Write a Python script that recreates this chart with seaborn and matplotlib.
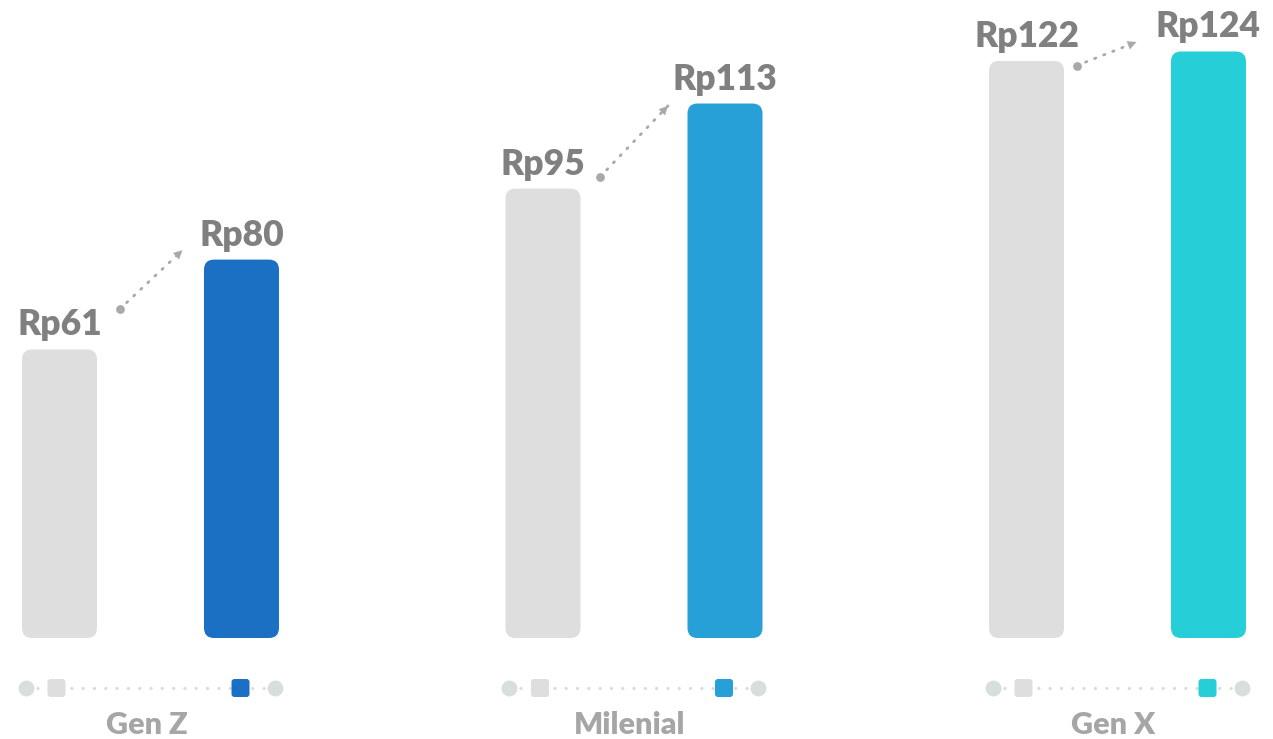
import numpy as np
import pandas as pd
import matplotlib
matplotlib.use("Agg")
import matplotlib.pyplot as plt
import seaborn as sns
from matplotlib.patches import FancyBboxPatch

# data
groups = ["Gen Z", "Milenial", "Gen X"]
periods = ["before", "after"]
before_values = [61, 95, 122]
after_values = [80, 113, 124]
before_labels = ["Rp61", "Rp95", "Rp122"]
after_labels = ["Rp80", "Rp113", "Rp124"]
after_colors = ["#1B70C4", "#26A0D6", "#26CFD8"]
before_color = "#DEDEDE"

# arrow annotation heights (value units)
arrow_from = [69.5, 97.5, 121.0]
arrow_to = [82.0, 112.5, 126.0]

df = pd.DataFrame({
    "group": groups * 2,
    "period": ["before"] * 3 + ["after"] * 3,
    "value": before_values + after_values,
})

sns.set_style("white")
plt.rcParams["font.family"] = ["Lato", "DejaVu Sans"]

# pixel helpers: one category = 483.5 px, one value unit = 4.73 px
PX = 1 / 483.5
PY = 1 / 4.73

fig = plt.figure(figsize=(12.73, 7.39), dpi=100)
ax = fig.add_axes([0, 0, 1, 1])

sns.barplot(data=df, x="group", y="value", hue="period", order=groups,
            hue_order=periods, palette=[before_color, after_colors[0]],
            width=0.7528, gap=0.588, errorbar=None, legend=False, ax=ax)

ax.set_xlim(-150.5 * PX, (1273 - 150.5) * PX)
ax.set_ylim(-101 * PY, 638 * PY)
ax.axis("off")

# swap rectangles for rounded bars
bars = list(ax.patches)
for rect in bars:
    x, y = rect.get_x(), rect.get_y()
    w, h = rect.get_width(), rect.get_height()
    cx = x + w / 2
    gi = int(round(cx))
    is_after = cx > gi
    color = after_colors[gi] if is_after else before_color
    rect.remove()
    box = FancyBboxPatch((x, y), w, h,
                         boxstyle=f"round,pad=0,rounding_size={10 * PX}",
                         mutation_aspect=PY / PX, facecolor=color,
                         edgecolor="none", zorder=2)
    ax.add_patch(box)
    label = (after_labels if is_after else before_labels)[gi]
    ax.text(cx, h + 14 * PY, label, ha="center", va="baseline",
            fontsize=25.5, fontweight="heavy", color="#808080", zorder=3)

# arrows between the labels
arrow_dx = [(60, 123), (57, 125), (50, 110)]
for i in range(len(groups)):
    gx = i - 91 * PX
    x0 = gx + arrow_dx[i][0] * PX
    x1 = gx + arrow_dx[i][1] * PX
    y0, y1 = arrow_from[i], arrow_to[i]
    ax.plot([x0, x1], [y0, y1], color="#A9A9A9", lw=2,
            linestyle=(0, (0.5, 3)), dash_capstyle="round", zorder=3)
    ax.scatter([x0], [y0], s=40, color="#A9A9A9", zorder=4, linewidths=0)
    ax.annotate("", xy=(x1, y1),
                xytext=(x1 - (x1 - x0) * 0.2, y1 - (y1 - y0) * 0.2),
                arrowprops=dict(arrowstyle="-|>", color="#A9A9A9", lw=0,
                                mutation_scale=16, shrinkA=0, shrinkB=0),
                zorder=4)

# legend row and group names
row_y = -50 * PY
for i, g in enumerate(groups):
    ax.plot([i - 125 * PX, i + 124 * PX], [row_y, row_y], color="#D5DEDC",
            lw=2.2, linestyle=(0, (0.1, 3.6)), dash_capstyle="round", zorder=1)
    ax.scatter([i - 125 * PX, i + 124 * PX], [row_y, row_y], s=130,
               color="#D6DFDD", linewidths=0, zorder=2)
    for cx, col in [(i - 94 * PX, before_color), (i + 90 * PX, after_colors[i])]:
        sq = FancyBboxPatch((cx - 9 * PX, row_y - 9 * PY), 18 * PX, 18 * PY,
                            boxstyle=f"round,pad=0,rounding_size={3 * PX}",
                            mutation_aspect=PY / PX, facecolor=col,
                            edgecolor="none", zorder=3)
        ax.add_patch(sq)
    ax.text(i - 4 * PX, -87 * PY, g, ha="center", va="center", fontsize=22,
            fontweight="heavy", color="#A6A6A6")

fig.savefig("out.png", dpi=100)
